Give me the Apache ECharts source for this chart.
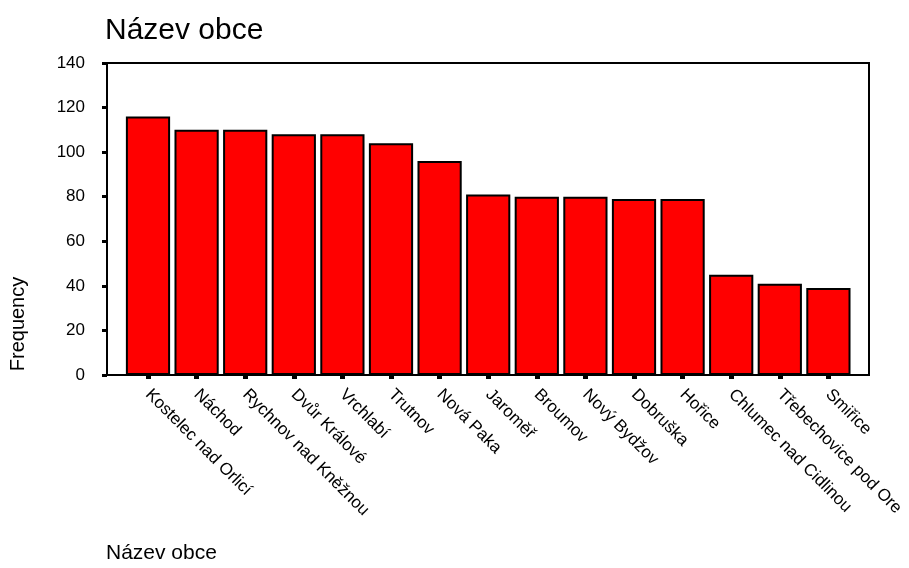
<!DOCTYPE html>
<html>
<head>
<meta charset="utf-8">
<script src="https://cdn.jsdelivr.net/npm/echarts@6/dist/echarts.min.js"></script>
<style>
html,body{margin:0;padding:0;background:#fff;}
#chart{width:909px;height:568px;}
</style>
</head>
<body>
<div id="chart"></div>
<script>
const categories = ["Kostelec nad Orlicí","Náchod","Rychnov nad Kněžnou","Dvůr Králové","Vrchlabí","Trutnov","Nová Paka","Jaroměř","Broumov","Nový Bydžov","Dobruška","Hořice","Chlumec nad Cidlinou","Třebechovice pod Ore","Smiřice"];
const frequency = [116,110,110,108,108,104,96,81,80,80,79,79,45,41,39];
const yTicks = {min:0, max:140, interval:20};
const titleText = "Název obce";
const xAxisTitle = "Název obce";
const yAxisTitle = "Frequency";

const FONT = "'Liberation Sans', Arial, sans-serif";
const chart = echarts.init(document.getElementById('chart'));
chart.setOption({
  animation:false,
  backgroundColor:'#fff',
  title:[
    {text:titleText, left:105, top:16, padding:0, textStyle:{fontFamily:FONT,fontSize:30,fontWeight:'normal',color:'#000'}},
    {text:xAxisTitle, left:106, top:543, padding:0, textStyle:{fontFamily:FONT,fontSize:21,fontWeight:'normal',color:'#000'}}
  ],
  graphic:[{
    type:'text', x:18, y:324, rotation:Math.PI/2,
    style:{text:yAxisTitle, font:"20px "+FONT, fill:'#000', textAlign:'center', textVerticalAlign:'middle'}
  }],
  grid:[
    {left:107, right:40, top:63, bottom:193, show:true, borderColor:'#000', borderWidth:2, backgroundColor:'transparent'},
    {left:123.7, right:56.3, top:63, bottom:193}
  ],
  xAxis:[
    {gridIndex:0, type:'value', show:false, min:0, max:1},
    {gridIndex:1, type:'category', data:categories,
     axisLine:{show:false},
     axisTick:{show:true, alignWithLabel:true, interval:0, length:4, lineStyle:{color:'#000', width:5}},
     axisLabel:{interval:0, rotate:-45, margin:17, fontFamily:FONT, fontSize:17, color:'#000'}}
  ],
  yAxis:[
    {gridIndex:0, type:'value', min:yTicks.min, max:yTicks.max, interval:yTicks.interval,
     splitLine:{show:false},
     axisLine:{show:true, lineStyle:{color:'#000', width:2}},
     axisTick:{show:true, length:5, lineStyle:{color:'#000', width:3}},
     axisLabel:{margin:22, fontFamily:FONT, fontSize:17, color:'#000'}},
    {gridIndex:1, type:'value', min:yTicks.min, max:yTicks.max, show:false}
  ],
  series:[{
    type:'bar', xAxisIndex:1, yAxisIndex:1, data:frequency,
    barCategoryGap:'9%',
    itemStyle:{color:'#ff0000', borderColor:'#000', borderWidth:2}
  }]
});
</script>
</body>
</html>
